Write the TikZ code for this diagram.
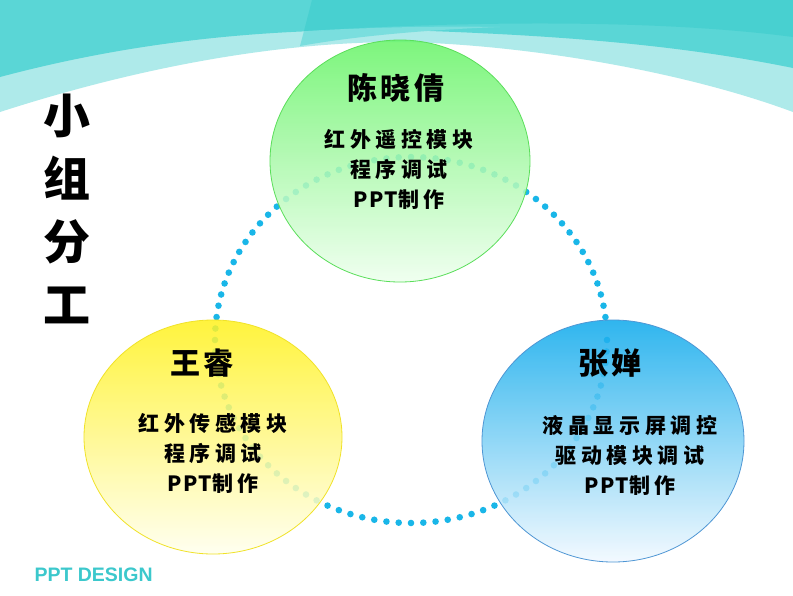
\documentclass[tikz,border=0pt]{standalone}
\usepackage{fontspec}
\setsansfont{Liberation Sans}
\newfontfamily\cjk{Noto Sans CJK SC}
\newfontfamily\cjkwide{Noto Sans CJK SC}[LetterSpace=22]
\newfontfamily\cjkname{Noto Sans CJK SC}[LetterSpace=12]
\newfontfamily\cjkppt{Noto Sans CJK SC}[LetterSpace=8]
\newcommand\pptword{{\cjkppt\bfseries PPT}}
\usetikzlibrary{shapes.geometric}

\definecolor{tealdark}{RGB}{72,208,208}
\definecolor{tealmid}{RGB}{90,214,214}
\definecolor{tealsliver}{RGB}{122,222,222}
\definecolor{teallight}{RGB}{174,234,234}
\definecolor{dotblue}{RGB}{25,182,232}
\definecolor{designteal}{RGB}{60,200,204}

\tikzset{
  ball/.style={ellipse, inner sep=0pt, line width=0.8pt, fill opacity=0.86},
  who/.style={font=\cjkname\bfseries\fontsize{30}{34}\selectfont},
  jobs/.style={align=center, font=\cjkwide\bfseries\fontsize{21}{30}\selectfont},
}

\begin{document}
\begin{tikzpicture}[x=1pt, y=-1pt]
  \useasboundingbox (0,0) rectangle (793,595);
  \fill[white] (0,0) rectangle (793,595);

  % waves on top
  \fill[teallight] (0,0) -- (793,0) -- (793,112)
    .. controls (680,70) and (520,44) .. (400,42)
    .. controls (270,42) and (130,70) .. (0,112) -- cycle;
  \fill[tealmid] (0,0) -- (793,0) -- (793,68)
    .. controls (680,45) and (560,35) .. (400,30)
    .. controls (250,28) and (120,45) .. (0,77) -- cycle;
  \fill[tealsliver] (300,46) -- (304,31) .. controls (380,27) and (440,26) .. (500,27)
    .. controls (420,30) and (350,37) .. (300,46) -- cycle;
  \fill[tealdark] (312,0) -- (793,0) -- (793,37)
    .. controls (650,18) and (450,22) .. (304,31) -- cycle;

  % dotted ring behind the three circles
  \foreach \a in {0,3.6,...,356.4}
    \fill[dotblue] ({411+196*cos(\a)},{340+183*sin(\a)}) circle (3.3);

  % the three members
  \node[ball, minimum width=260pt, minimum height=242pt, draw={rgb,255:red,90;green,222;blue,90},
        top color={rgb,255:red,104;green,244;blue,104}, bottom color={rgb,255:red,238;green,255;blue,238}]
        (chen) at (400,161) {};
  \node[ball, minimum width=258pt, minimum height=234pt, draw={rgb,255:red,240;green,226;blue,40},
        top color={rgb,255:red,255;green,242;blue,30}, bottom color={rgb,255:red,255;green,255;blue,238}]
        (wang) at (213,437) {};
  \node[ball, minimum width=262pt, minimum height=242pt, draw={rgb,255:red,78;green,150;blue,212},
        top color={rgb,255:red,14;green,170;blue,236}, bottom color={rgb,255:red,242;green,249;blue,255}]
        (zhang) at (613,441) {};

  \node[who] (chenname) at (396,88) {陈晓倩};
  \node[jobs] (chenjobs) at (399,169) {红外遥控模块\\程序调试\\\pptword 制作};

  \node[who] (wangname) at (202,363) {王睿};
  \node[jobs] (wangjobs) at (213,453) {红外传感模块\\程序调试\\\pptword 制作};

  \node[who] (zhangname) at (610,363) {张婵};
  \node[jobs] (zhangjobs) at (630,455) {液晶显示屏调控\\驱动模块调试\\\pptword 制作};

  % title and footer
  \node[align=center, font=\cjk\bfseries\fontsize{47}{63}\selectfont] (title) at (67,209) {小\\组\\分\\工};
  \node[anchor=west, text=designteal, font=\sffamily\bfseries\fontsize{19.5}{22}\selectfont] (design) at (31,575) {PPT DESIGN};
\end{tikzpicture}
\end{document}
